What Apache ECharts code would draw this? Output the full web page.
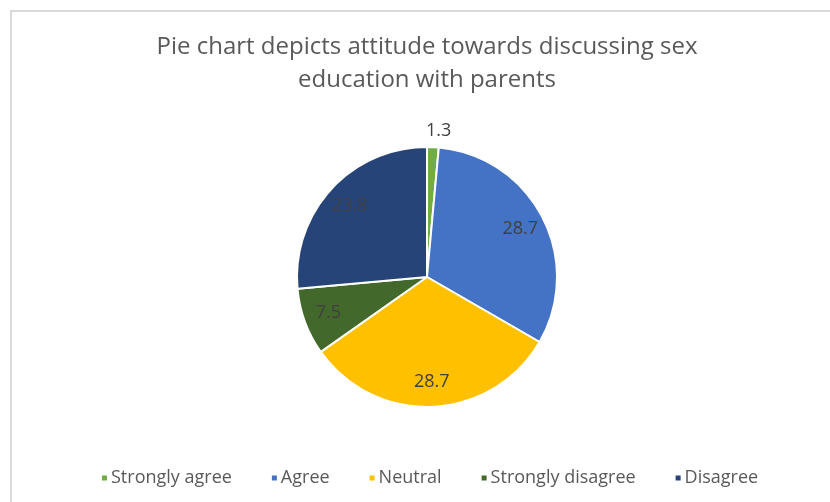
<!DOCTYPE html>
<html>
<head>
<meta charset="utf-8">
<script src="https://cdn.jsdelivr.net/npm/echarts@6/dist/echarts.min.js"></script>
<style>
  html, body { margin: 0; padding: 0; background: #ffffff; }
  #chart { width: 830px; height: 502px; }
</style>
</head>
<body>
<div id="chart"></div>
<script>
// Attitude categories and their shares (%)
const categories = ['Strongly agree', 'Agree', 'Neutral', 'Strongly disagree', 'Disagree'];
const values = [1.3, 28.7, 28.7, 7.5, 23.8];
const colors = ['#70AD47', '#4472C4', '#FFC000', '#43682B', '#264478'];

const titleText = 'Pie chart depicts attitude towards discussing sex\neducation with parents';
const fontFamily = '"Open Sans", "Liberation Sans", sans-serif';

const chart = echarts.init(document.getElementById('chart'));

// The thin slice gets its value outside, above the pie
const sliceData = categories.map((name, i) => ({
  name: name,
  value: values[i],
  itemStyle: { color: colors[i] },
  label: { show: i === 0 }
}));

// The larger slices carry their values inside, toward the rim
const innerLabelData = categories.map((name, i) => ({
  name: name,
  value: values[i],
  label: { show: i !== 0 }
}));

chart.setOption({
  animation: false,
  title: {
    text: titleText,
    left: 422,
    top: 26,
    textAlign: 'center',
    textStyle: {
      fontFamily: fontFamily,
      fontSize: 24,
      fontWeight: 'normal',
      color: '#595959',
      lineHeight: 33
    }
  },
  legend: {
    data: categories,
    bottom: 10,
    left: 95,
    icon: 'rect',
    itemWidth: 7,
    itemHeight: 7,
    itemGap: 38,
    textStyle: {
      fontFamily: fontFamily,
      fontSize: 18,
      color: '#595959',
      padding: [0, 0, 0, -2]
    }
  },
  graphic: [{
    type: 'polyline',
    silent: true,
    shape: { points: [[11, 502], [11, 11], [830, 11]] },
    style: { stroke: '#d9d9d9', lineWidth: 2, fill: null }
  }],
  series: [
    {
      type: 'pie',
      name: 'Attitude',
      center: [427, 277],
      radius: 130,
      startAngle: 90,
      clockwise: true,
      avoidLabelOverlap: false,
      data: sliceData,
      itemStyle: { borderColor: '#ffffff', borderWidth: 2 },
      label: {
        position: 'outside',
        formatter: '{c}',
        fontFamily: fontFamily,
        fontSize: 18,
        color: '#404040'
      },
      labelLine: { show: false, length: 16, length2: 0 },
      labelLayout: function (params) {
        if (params.dataIndex === 0) {
          return { dx: -params.labelRect.width / 2 };
        }
      },
      emphasis: { disabled: true }
    },
    {
      type: 'pie',
      name: 'Values',
      silent: true,
      legendHoverLink: false,
      center: [427, 277],
      radius: [74, 130],
      startAngle: 90,
      clockwise: true,
      data: innerLabelData,
      itemStyle: { color: 'rgba(0,0,0,0)', borderWidth: 0 },
      label: {
        position: 'inside',
        formatter: '{c}',
        fontFamily: fontFamily,
        fontSize: 18,
        color: '#404040'
      },
      labelLine: { show: false },
      emphasis: { disabled: true }
    }
  ]
});
</script>
</body>
</html>
